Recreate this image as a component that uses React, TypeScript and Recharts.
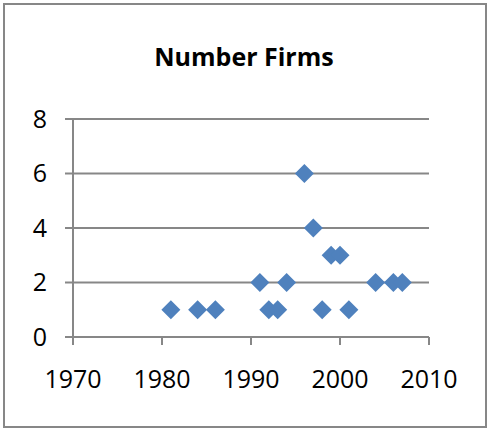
import { ScatterChart, Scatter, XAxis, YAxis, CartesianGrid } from 'recharts';

const years = [1981, 1984, 1986, 1991, 1992, 1993, 1994, 1996, 1997, 1998, 1999, 2000, 2001, 2004, 2006, 2007];
const firms = [1, 1, 1, 2, 1, 1, 2, 6, 4, 1, 3, 3, 1, 2, 2, 2];
const xTicks = [1970, 1980, 1990, 2000, 2010];
const yTicks = [0, 2, 4, 6, 8];

const data = years.map((year, i) => ({ year, firms: firms[i] }));

const FONT = '"Open Sans", sans-serif';
const GRID = '#878787';

// square diamond like the Excel marker, not the tall d3 one
const Diamond = (props: any) => {
  const { cx, cy } = props;
  const r = 9.5;
  return (
    <path
      d={`M${cx} ${cy - r}L${cx + r} ${cy}L${cx} ${cy + r}L${cx - r} ${cy}Z`}
      fill="#4F81BD"
      stroke="none"
    />
  );
};

export default function App() {
  return (
    <div style={{ position: 'absolute', left: 0, top: 0, width: 488, height: 431, background: '#fff' }}>
      <div
        style={{
          position: 'absolute',
          left: 3,
          top: 3,
          width: 480,
          height: 421,
          border: `2px solid ${GRID}`,
        }}
      />
      <div
        style={{
          position: 'absolute',
          left: 0,
          top: 44,
          width: 488,
          textAlign: 'center',
          fontFamily: FONT,
          fontWeight: 700,
          fontSize: 25,
          lineHeight: '25px',
          color: '#000',
        }}
      >
        Number Firms
      </div>
      <ScatterChart width={488} height={431} margin={{ top: 119, right: 59, bottom: 0, left: 0 }}>
        <CartesianGrid vertical={false} stroke={GRID} strokeWidth={2} strokeDasharray="" />
        <XAxis
          type="number"
          dataKey="year"
          domain={[1970, 2010]}
          ticks={xTicks}
          interval={0}
          height={94}
          tickSize={8}
          tickMargin={25}
          stroke={GRID}
          strokeWidth={2}
          tick={{ fill: '#000', fontFamily: FONT, fontSize: 25 }}
        />
        <YAxis
          type="number"
          dataKey="firms"
          domain={[0, 8]}
          ticks={yTicks}
          interval={0}
          width={73}
          tickSize={8}
          tickMargin={18}
          stroke={GRID}
          strokeWidth={2}
          tick={{ fill: '#000', fontFamily: FONT, fontSize: 25 }}
        />
        <Scatter data={data} shape={Diamond} isAnimationActive={false} />
      </ScatterChart>
    </div>
  );
}
